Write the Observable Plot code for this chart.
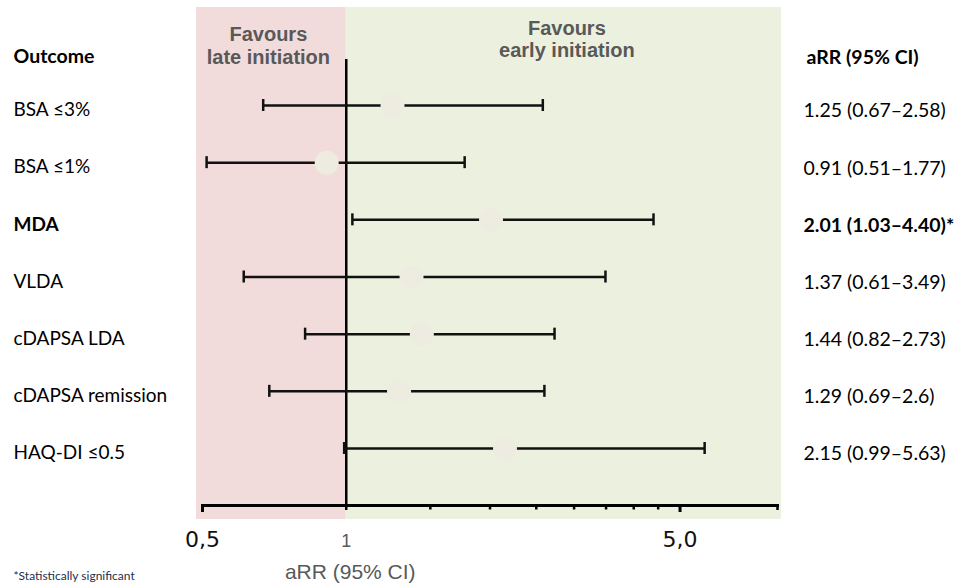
<!DOCTYPE html>
<html>
<head>
<meta charset="utf-8">
<script src="https://cdn.jsdelivr.net/npm/d3@7"></script>
<script src="https://cdn.jsdelivr.net/npm/@observablehq/plot@0.6"></script>
<style>
  html, body { margin: 0; padding: 0; overflow: hidden; background: #fff; }
  #chart svg { overflow: visible; display: block; }
</style>
</head>
<body>
<div id="chart"></div>
<script>
// ---- Data ----
const outcomes = ["BSA ≤3%", "BSA ≤1%", "MDA", "VLDA", "cDAPSA LDA", "cDAPSA remission", "HAQ-DI ≤0.5"];
const estimates = [1.25, 0.91, 2.01, 1.37, 1.44, 1.29, 2.15];
const lowerCI = [0.67, 0.51, 1.03, 0.61, 0.82, 0.69, 0.99];
const upperCI = [2.58, 1.77, 4.40, 3.49, 2.73, 2.6, 5.63];
const ciLabels = ["1.25 (0.67–2.58)", "0.91 (0.51–1.77)", "2.01 (1.03–4.40)*", "1.37 (0.61–3.49)", "1.44 (0.82–2.73)", "1.29 (0.69–2.6)", "2.15 (0.99–5.63)"];
const significant = [false, false, true, false, false, false, false];

const majorTicks = [0.5, 5];
const majorTickLabels = ["0,5", "5,0"];
const nullTick = [1];
const nullTickLabel = ["1"];
const minorTicks = [1.5, 2, 2.5, 3, 3.5, 4, 4.5];
const endTick = [8];
const axisDomain = [0.5, 8];

const outcomeHeader = "Outcome";
const estimateHeader = "aRR (95% CI)";
const lateHeader = "Favours\nlate initiation";
const earlyHeader = "Favours\nearly initiation";
const axisLabel = "aRR (95% CI)";
const footnote = "*Statistically significant";

// ---- Table built from the arrays ----
const rows = outcomes.map((outcome, i) => ({
  outcome, est: estimates[i], lo: lowerCI[i], hi: upperCI[i], label: ciLabels[i], sig: significant[i]
}));

// ---- Layout ----
const W = 959, H = 583;
const mL = 202, mR = 182, mT = 59, mB = 78;
const firstRowY = 105, lastRowY = 448;
const step = (lastRowY - firstRowY) / (outcomes.length - 1);
const capHalf = 6;
const capInset = step / 2 - capHalf;
const bodyFont = "Lato, 'Open Sans', sans-serif";
const headFont = "'Liberation Sans', Arial, sans-serif";
const labelDx = 13 - mL;
const valueDx = 803 - (W - mR);

const chart = Plot.plot({
  width: W,
  height: H,
  marginLeft: mL,
  marginRight: mR,
  marginTop: mT,
  marginBottom: mB,
  style: { background: "white", overflow: "visible" },
  x: { type: "log", domain: axisDomain, label: null },
  y: { type: "band", domain: outcomes, range: [firstRowY - step / 2, lastRowY + step / 2], padding: 0, round: false, axis: null },
  marks: [
    // background zones
    Plot.rect([{ x1: axisDomain[0], x2: 1 }], { x1: "x1", x2: "x2", fill: "#f2dcdb", insetLeft: -6, insetTop: -52, insetBottom: -14 }),
    Plot.rect([{ x1: 1, x2: axisDomain[1] }], { x1: "x1", x2: "x2", fill: "#ebf1de", insetRight: -4, insetTop: -52, insetBottom: -14 }),
    // line of no effect
    Plot.ruleX(nullTick, { stroke: "#000", strokeWidth: 2.5 }),
    // confidence intervals
    Plot.ruleY(rows, { y: "outcome", x1: "lo", x2: "hi", stroke: "#111", strokeWidth: 2.5 }),
    Plot.tickX(rows, { x: "lo", y: "outcome", stroke: "#111", strokeWidth: 2.5, insetTop: capInset, insetBottom: capInset }),
    Plot.tickX(rows, { x: "hi", y: "outcome", stroke: "#111", strokeWidth: 2.5, insetTop: capInset, insetBottom: capInset }),
    // point estimates
    Plot.dot(rows, { x: "est", y: "outcome", r: 12, fill: "#eeece1", stroke: "none" }),
    // x axis
    Plot.frame({ anchor: "bottom", stroke: "#000", strokeWidth: 3 }),
    Plot.axisX(minorTicks, { tickSize: 4.5, strokeWidth: 2.5, stroke: "#000", tickFormat: () => "", label: null }),
    Plot.axisX(endTick, { tickSize: 5, strokeWidth: 2.5, stroke: "#000", tickFormat: () => "", label: null }),
    Plot.axisX(majorTicks, {
      tickSize: 7, strokeWidth: 3, stroke: "#000", tickPadding: 18.5, label: null,
      tickFormat: d => majorTickLabels[majorTicks.indexOf(d)],
      fontFamily: "'DejaVu Sans', sans-serif", fontSize: 22, fill: "#111"
    }),
    Plot.axisX(nullTick, {
      tickSize: 5, strokeWidth: 2.5, stroke: "#000", tickPadding: 23.5, label: null,
      tickFormat: d => nullTickLabel[nullTick.indexOf(d)],
      fontFamily: "'Liberation Sans Narrow', 'Liberation Sans', sans-serif", fontSize: 18, fill: "#595959"
    }),
    Plot.text(nullTick, { x: d => d, text: () => axisLabel, frameAnchor: "bottom", lineAnchor: "middle", dx: 4, dy: 66.5, fontFamily: headFont, fontSize: 21, fill: "#595959" }),
    // favours headers
    Plot.text([Math.sqrt(axisDomain[0] * 1)], { x: d => d, text: () => lateHeader, frameAnchor: "top", lineAnchor: "top", dx: -6, dy: -34.9, lineHeight: 1.15, fontFamily: headFont, fontSize: 20, fontWeight: "bold", fill: "#595959" }),
    Plot.text([Math.sqrt(1 * axisDomain[1])], { x: d => d, text: () => earlyHeader, frameAnchor: "top", lineAnchor: "top", dx: 5, dy: -39.9, lineHeight: 1.1, fontFamily: headFont, fontSize: 20, fontWeight: "bold", fill: "#595959" }),
    // column headers
    Plot.text([outcomeHeader], { frameAnchor: "top-left", lineAnchor: "middle", dx: labelDx, dy: -2.8, textAnchor: "start", fontFamily: bodyFont, fontSize: 19.5, fontWeight: "bold", fill: "#000" }),
    Plot.text([estimateHeader], { frameAnchor: "top-right", lineAnchor: "middle", dx: valueDx + 3, dy: -1.8, textAnchor: "start", fontFamily: bodyFont, fontSize: 19.5, fontWeight: "bold", fill: "#000" }),
    // row labels
    Plot.text(rows, { filter: d => !d.sig, y: "outcome", text: "outcome", frameAnchor: "left", dx: labelDx, dy: 4.6, textAnchor: "start", fontFamily: bodyFont, fontSize: 19, fill: "#000" }),
    Plot.text(rows, { filter: d => d.sig, y: "outcome", text: "outcome", frameAnchor: "left", dx: labelDx, dy: 4.6, textAnchor: "start", fontFamily: bodyFont, fontSize: 19, fontWeight: "bold", fill: "#000" }),
    // estimate labels
    Plot.text(rows, { filter: d => !d.sig, y: "outcome", text: "label", frameAnchor: "right", dx: valueDx, dy: 5.6, textAnchor: "start", fontFamily: bodyFont, fontSize: 19.5, fill: "#000" }),
    Plot.text(rows, { filter: d => d.sig, y: "outcome", text: "label", frameAnchor: "right", dx: valueDx, dy: 5.6, textAnchor: "start", fontFamily: bodyFont, fontSize: 19.5, fontWeight: "bold", fill: "#000" }),
    // footnote
    Plot.text([footnote], { frameAnchor: "bottom-left", lineAnchor: "middle", dx: labelDx, dy: 70.7, textAnchor: "start", fontFamily: bodyFont, fontSize: 12, fill: "#1f2d4d" })
  ]
});

document.getElementById("chart").appendChild(chart);
</script>
</body>
</html>
